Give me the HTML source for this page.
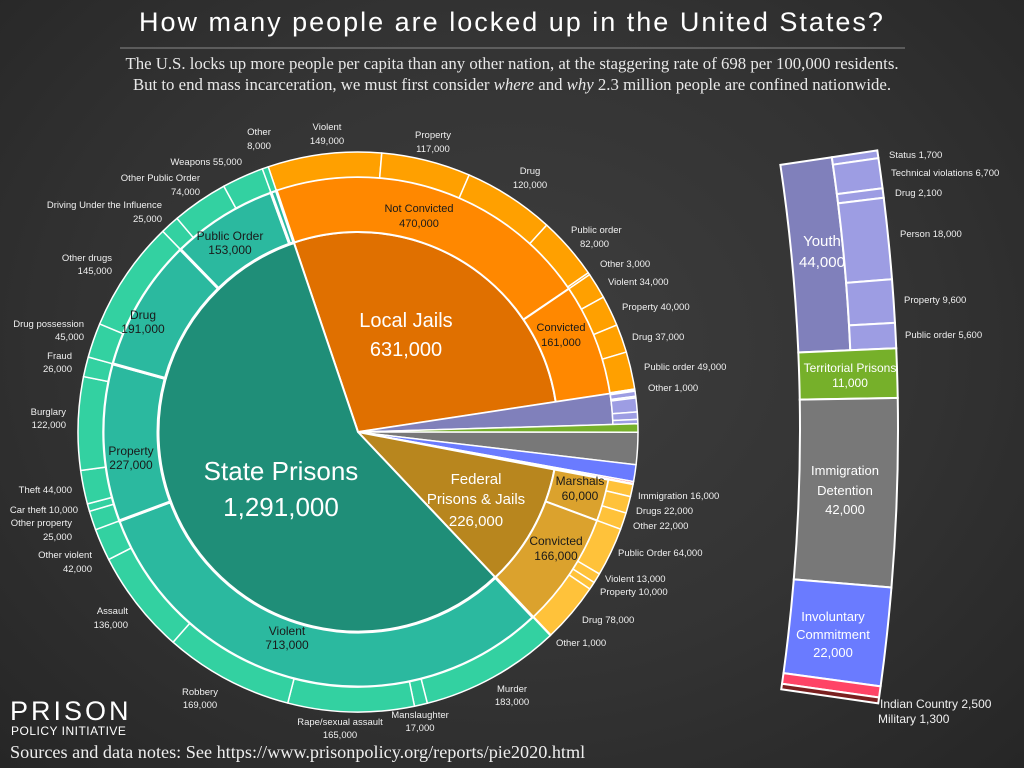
<!DOCTYPE html>
<html><head><meta charset="utf-8">
<style>
html,body{margin:0;padding:0;}
body{width:1024px;height:768px;overflow:hidden;background:radial-gradient(ellipse at 50% 45%,#3e3e3e 0%,#333 55%,#262626 100%);}
svg{position:absolute;left:0;top:0;}
text{font-family:"Liberation Sans",sans-serif;}
.t{fill:#f0f0f0;font-size:9.5px;}
.d{fill:#1a1a1a;font-size:12px;}
.w{fill:#fff;}
</style></head><body>
<svg id="s" width="1024" height="768" viewBox="0 0 1024 768">
<g id="g"></g>
<line x1="120" y1="48" x2="905" y2="48" stroke="#888" stroke-width="1"/>
<text x="512" y="31" text-anchor="middle" fill="#fff" font-size="27" letter-spacing="2">How many people are locked up in the United States?</text>
<text x="512" y="69" text-anchor="middle" fill="#e8e8e8" font-size="16.8" style="font-family:'Liberation Serif',serif">The U.S. locks up more people per capita than any other nation, at the staggering rate of 698 per 100,000 residents.</text>
<text x="512" y="90" text-anchor="middle" fill="#e8e8e8" font-size="16.8" style="font-family:'Liberation Serif',serif">But to end mass incarceration, we must first consider <tspan font-style="italic">where</tspan> and <tspan font-style="italic">why</tspan> 2.3 million people are confined nationwide.</text>

<g class="t" text-anchor="middle">
<text x="259" y="135">Other</text><text x="259" y="149">8,000</text>
<text x="327" y="130">Violent</text><text x="327" y="144">149,000</text>
<text x="433" y="138">Property</text><text x="433" y="152">117,000</text>
<text x="530" y="174">Drug</text><text x="530" y="188">120,000</text>
<text x="200" y="695">Robbery</text><text x="200" y="708">169,000</text>
<text x="340" y="725">Rape/sexual assault</text><text x="340" y="738">165,000</text>
<text x="420" y="718">Manslaughter</text><text x="420" y="731">17,000</text>
<text x="512" y="692">Murder</text><text x="512" y="705">183,000</text>
</g>
<g class="t" text-anchor="end">
<text x="242" y="165">Weapons  55,000</text>
<text x="200" y="181">Other Public Order</text><text x="200" y="195">74,000</text>
<text x="162" y="208">Driving Under the Influence</text><text x="162" y="222">25,000</text>
<text x="112" y="261">Other drugs</text><text x="112" y="274">145,000</text>
<text x="84" y="327">Drug possession</text><text x="84" y="340">45,000</text>
<text x="72" y="359">Fraud</text><text x="72" y="372">26,000</text>
<text x="66" y="415">Burglary</text><text x="66" y="428">122,000</text>
<text x="72" y="493">Theft 44,000</text>
<text x="78" y="513">Car theft 10,000</text>
<text x="72" y="526">Other property</text><text x="72" y="540">25,000</text>
<text x="92" y="558">Other violent</text><text x="92" y="572">42,000</text>
<text x="128" y="614">Assault</text><text x="128" y="628">136,000</text>
</g>
<g class="t">
<text x="571" y="233">Public order</text><text x="580" y="247">82,000</text>
<text x="600" y="267">Other 3,000</text>
<text x="608" y="285">Violent 34,000</text>
<text x="622" y="310">Property 40,000</text>
<text x="632" y="340">Drug 37,000</text>
<text x="644" y="370">Public order 49,000</text>
<text x="648" y="391">Other 1,000</text>
<text x="638" y="499">Immigration 16,000</text>
<text x="636" y="514">Drugs 22,000</text>
<text x="633" y="529">Other 22,000</text>
<text x="618" y="556">Public Order 64,000</text>
<text x="605" y="582">Violent 13,000</text>
<text x="600" y="595">Property 10,000</text>
<text x="582" y="623">Drug 78,000</text>
<text x="556" y="646">Other 1,000</text>
<text x="889" y="158">Status 1,700</text>
<text x="891" y="176">Technical violations 6,700</text>
<text x="895" y="196">Drug 2,100</text>
<text x="900" y="237">Person 18,000</text>
<text x="904" y="303">Property 9,600</text>
<text x="905" y="338">Public order 5,600</text>
<text x="880" y="708" font-size="12">Indian Country 2,500</text>
<text x="878" y="723" font-size="12">Military 1,300</text>
</g>
<g class="d" text-anchor="middle">
<text x="419" y="212" font-size="11">Not Convicted</text><text x="419" y="227" font-size="11">470,000</text>
<text x="561" y="331" font-size="11">Convicted</text><text x="561" y="346" font-size="11">161,000</text>
<text x="230" y="240" font-size="12">Public Order</text><text x="230" y="254" font-size="12">153,000</text>
<text x="143" y="319" font-size="12">Drug</text><text x="143" y="333" font-size="12">191,000</text>
<text x="131" y="455" font-size="12">Property</text><text x="131" y="469" font-size="12">227,000</text>
<text x="287" y="635" font-size="12">Violent</text><text x="287" y="649" font-size="12">713,000</text>
<text x="580" y="485" font-size="12">Marshals</text><text x="580" y="500" font-size="12">60,000</text>
<text x="556" y="545" font-size="12">Convicted</text><text x="556" y="560" font-size="12">166,000</text>
</g>
<g class="w" text-anchor="middle">
<text x="406" y="327" font-size="20">Local Jails</text><text x="406" y="356" font-size="20">631,000</text>
<text x="281" y="480" font-size="26">State Prisons</text><text x="281" y="516" font-size="26">1,291,000</text>
<text x="476" y="484" font-size="15">Federal</text><text x="476" y="504" font-size="15">Prisons &amp; Jails</text><text x="476" y="526" font-size="15">226,000</text>
<text x="822" y="246" font-size="15">Youth</text><text x="822" y="267" font-size="15">44,000</text>
<text x="850" y="372" font-size="12">Territorial Prisons</text><text x="850" y="387" font-size="12">11,000</text>
<text x="845" y="475" font-size="13">Immigration</text><text x="845" y="495" font-size="13">Detention</text><text x="845" y="514" font-size="13">42,000</text>
<text x="833" y="621" font-size="13">Involuntary</text><text x="833" y="639" font-size="13">Commitment</text><text x="833" y="657" font-size="13">22,000</text>
</g>
<text x="10" y="720" fill="#fff" font-size="27" letter-spacing="3">PRISON</text>
<text x="11" y="735" fill="#fff" font-size="12" letter-spacing="0.5">POLICY INITIATIVE</text>
<text x="10" y="758" fill="#eee" font-size="18.2" style="font-family:'Liberation Serif',serif">Sources and data notes: See https://www.prisonpolicy.org/reports/pie2020.html</text>
</svg>
<script>
(function(){
var g=document.getElementById('g'),NS='http://www.w3.org/2000/svg';
var CX=358,CY=432,K=360/2270800,S=-18.7;
function pt(r,a){a=a*Math.PI/180;return (CX+r*Math.sin(a))+' '+(CY-r*Math.cos(a));}
function wedge(r0,r1,a0,a1,fill,sw){
 var p=document.createElementNS(NS,'path');var L=(a1-a0)>180?1:0;
 var A=pt(r1,a0),B=pt(r1,a1),d;
 if(r0<=0){d='M'+CX+' '+CY+' L'+A+' A'+r1+' '+r1+' 0 '+L+' 1 '+B+' Z';}
 else{var C=pt(r0,a1),D=pt(r0,a0);d='M'+A+' A'+r1+' '+r1+' 0 '+L+' 1 '+B+' L'+C+' A'+r0+' '+r0+' 0 '+L+' 0 '+D+' Z';}
 p.setAttribute('d',d);p.setAttribute('fill',fill);p.setAttribute('stroke','#fff');p.setAttribute('stroke-width',sw||1.5);p.setAttribute('stroke-linejoin','round');g.appendChild(p);}
function subs(r0,r1,a0,a1,vals,fill){var t=0;vals.forEach(function(v){t+=v;});var a=a0;vals.forEach(function(v){var b=a+(a1-a0)*v/t;wedge(r0,r1,a,b,fill);a=b;});}
var a=S;
function ring(v,ci,cm,co,mids){var a0=a,a1=a+v*K;wedge(0,200,a0,a1,ci,2);
 var t=0;mids.forEach(function(m){t+=m[0];});var b=a0;
 mids.forEach(function(m){var e=b+(a1-a0)*m[0]/t;wedge(200,255,b,e,cm,2);subs(255,280,b,e,m[1],co);b=e;});a=a1;}
ring(631000,'#e07000','#ff8800','#ffa000',[[470000,[149,117,120,82,3]],[161000,[34,40,37,49,1]]]);
var y0=a,y1=a+44000*K;wedge(0,255,y0,y1,'#8080bb',1.5);subs(255,280,y0,y1,[1.7,6.7,2.1,18,9.6,5.6],'#9d9de3');a=y1;
[[11000,'#76b02a'],[42000,'#787878'],[22000,'#6a7bff'],[2500,'#ff4466'],[1300,'#7a2020']].forEach(function(s){wedge(0,280,a,a+s[0]*K,s[1],1.5);a+=s[0]*K;});
ring(226000,'#b8861e','#dba22d','#ffc23a',[[60000,[16,22,22]],[166000,[64,13,10,78,1]]]);
var e=S+360;var st=a;wedge(0,200,st,e,'#1f8e78',2);
var mids=[[713,[183,17,165,169,136,42]],[227,[25,10,44,122,26]],[191,[45,145]],[153,[25,74,55]],[8,[8]]];
var tt=1292,b=st;mids.forEach(function(m){var en=b+(e-st)*m[0]/tt;wedge(200,255,b,en,'#2bb99f',3);subs(255,280,b,en,m[1],'#33d1a1');b=en;});
var BX=-1000,BY=430;
function bp(r,t){t=t*Math.PI/180;return (BX+r*Math.cos(t))+' '+(BY+r*Math.sin(t));}
function seg(r0,r1,t0,t1,fill){var p=document.createElementNS(NS,'path');
 var d='M'+bp(r0,t0)+' L'+bp(r1,t0)+' A'+r1+' '+r1+' 0 0 1 '+bp(r1,t1)+' L'+bp(r0,t1)+' A'+r0+' '+r0+' 0 0 0 '+bp(r0,t0)+' Z';
 p.setAttribute('d',d);p.setAttribute('fill',fill);p.setAttribute('stroke','#fff');p.setAttribute('stroke-width',2);g.appendChild(p);}
var T0=-8.47,T1=8.28,BK=(T1-T0)/122800,t=T0;
var yt=t+44000*BK;seg(1800,1852,t,yt,'#8080bb');
var yv=[1700,6700,2100,18000,9600,5600],yt2=t;yv.forEach(function(v){var n=yt2+(yt-t)*v/43700;seg(1852,1898,yt2,n,'#9d9de3');yt2=n;});t=yt;
[[11000,'#76b02a'],[42000,'#787878'],[22000,'#6a7bff'],[2500,'#ff4466'],[1300,'#7a2020']].forEach(function(s){seg(1800,1898,t,t+s[0]*BK,s[1]);t+=s[0]*BK;});
})();
</script>
</body></html>
